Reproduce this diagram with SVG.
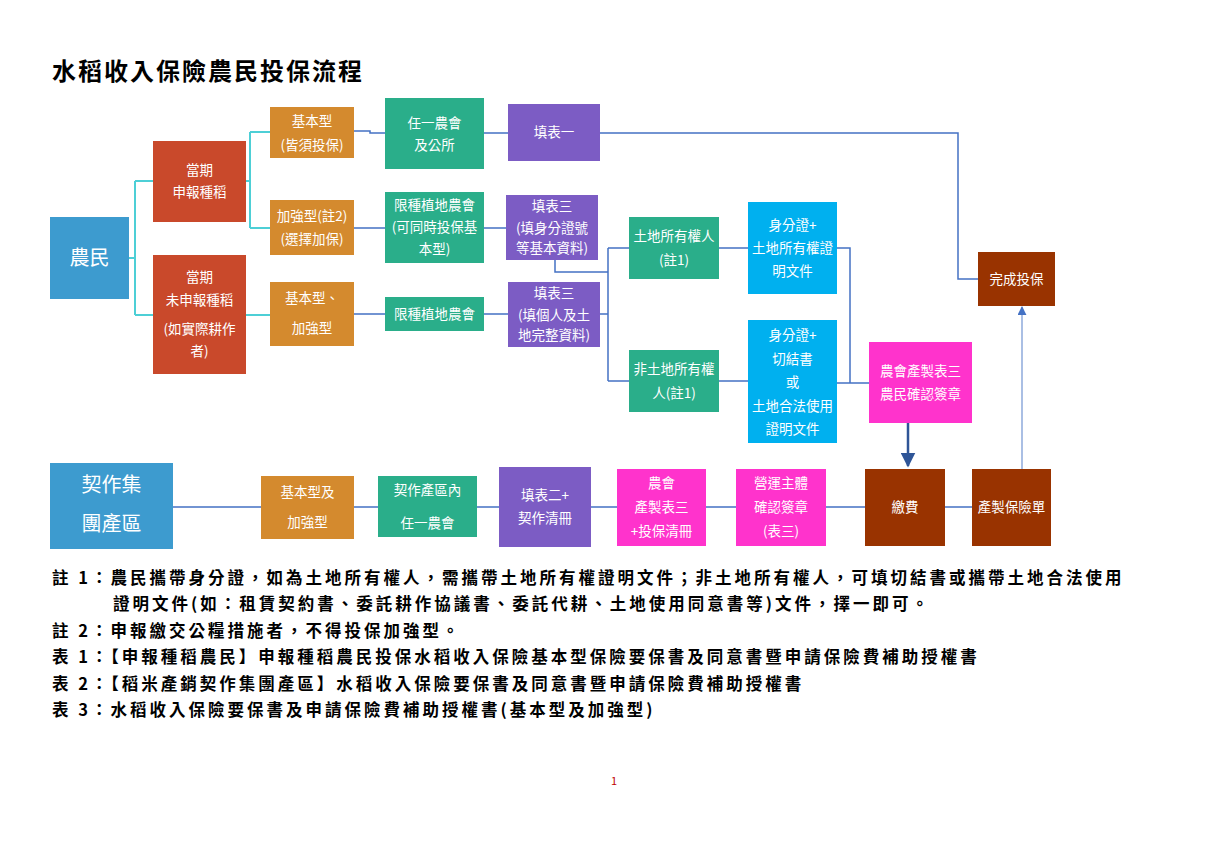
<svg xmlns="http://www.w3.org/2000/svg" width="1228" height="850" viewBox="0 0 1228 850">
<style>
text{font-family:"Noto Sans CJK TC","Noto Sans CJK SC",sans-serif;}
.n{fill:#fff;font-size:13.5px;text-anchor:middle;}
.b{fill:#fff;font-size:20px;text-anchor:middle;}
.note{font-size:16.5px;font-weight:bold;fill:#000;letter-spacing:3px;}
.c{fill:none;stroke:#4472c4;stroke-width:1.5;}
.cy{fill:none;stroke:#4dcfd6;stroke-width:2;}
</style>
<defs>
<marker id="ad" viewBox="0 0 10 10" refX="9" refY="5" markerWidth="6" markerHeight="6" orient="auto"><path d="M0,0L10,5L0,10z" fill="#2f5597"/></marker>
<marker id="al" viewBox="0 0 10 10" refX="9" refY="5" markerWidth="6" markerHeight="6" orient="auto"><path d="M0,0L10,5L0,10z" fill="#4472c4"/></marker>
</defs>
<rect width="1228" height="850" fill="#fff"/>
<text x="52" y="80" font-size="24" font-weight="bold" letter-spacing="2">水稻收入保險農民投保流程</text>
<g id="connectors">
<path class="cy" d="M129,258H135M135,181V315M135,181H153M135,315H153M246,181H250M250,132V228M250,132H270M250,228H270M246,315H270"/>
<path class="c" d="M354,131H370V133H385M484,133H508M600,133H958V279H978"/>
<path class="c" d="M354,228H385M484,228H506M354,314H385M484,314H508"/>
<path class="c" d="M555,260V272H608M600,314H608M608,248V381M608,248H629M608,381H629M719,248H748M719,381H748M837,248H850V383M837,383H869"/>
<path d="M908,423V466" stroke="#2f5597" stroke-width="2.5" fill="none" marker-end="url(#ad)"/>
<path d="M1022,469V307" stroke="#8eaadb" stroke-width="1.5" fill="none" marker-end="url(#al)"/>
<path class="c" d="M173,507H261M354,507H378M477,507H499M591,507H617M706,507H736M826,507H865M945,507H972" stroke="#5b9bd5"/>
</g>
<g id="n1"><rect x="50" y="217" width="79" height="82" fill="#3d9bcf"/><text class="b" x="89.5" y="265">農民</text></g>
<g id="n2"><rect x="153" y="141" width="93" height="81" fill="#c9492b"/><text class="n" x="199.5" y="175">當期</text><text class="n" x="199.5" y="197">申報種稻</text></g>
<g id="n3"><rect x="153" y="255" width="93" height="119" fill="#c9492b"/><text class="n" x="199.5" y="282">當期</text><text class="n" x="199.5" y="305">未申報種稻</text><text class="n" x="199.5" y="334">(如實際耕作</text><text class="n" x="199.5" y="356">者)</text></g>
<g id="n4"><rect x="270" y="107" width="84" height="51" fill="#d48a2e"/><text class="n" x="312" y="126">基本型</text><text class="n" x="312" y="150">(皆須投保)</text></g>
<g id="n5"><rect x="270" y="200" width="84" height="55" fill="#d48a2e"/><text class="n" x="312" y="221">加強型(註2)</text><text class="n" x="312" y="244">(選擇加保)</text></g>
<g id="n6"><rect x="270" y="282" width="84" height="64" fill="#d48a2e"/><text class="n" x="312" y="303">基本型、</text><text class="n" x="312" y="333">加強型</text></g>
<g id="n7"><rect x="385" y="98" width="99" height="71" fill="#2aae8a"/><text class="n" x="434.5" y="128">任一農會</text><text class="n" x="434.5" y="150">及公所</text></g>
<g id="n8"><rect x="385" y="192" width="99" height="71" fill="#2aae8a"/><text class="n" x="434.5" y="210">限種植地農會</text><text class="n" x="434.5" y="232">(可同時投保基</text><text class="n" x="434.5" y="254">本型)</text></g>
<g id="n9"><rect x="385" y="297" width="99" height="34" fill="#2aae8a"/><text class="n" x="434.5" y="319">限種植地農會</text></g>
<g id="n10"><rect x="508" y="104" width="92" height="57" fill="#7c5cc4"/><text class="n" x="554" y="137">填表一</text></g>
<g id="n11"><rect x="506" y="195" width="92" height="65" fill="#7c5cc4"/><text class="n" x="552" y="211">填表三</text><text class="n" x="552" y="233">(填身分證號</text><text class="n" x="552" y="253">等基本資料)</text></g>
<g id="n12"><rect x="508" y="282" width="92" height="65" fill="#7c5cc4"/><text class="n" x="554" y="298">填表三</text><text class="n" x="554" y="320">(填個人及土</text><text class="n" x="554" y="340">地完整資料)</text></g>
<g id="n13"><rect x="629" y="217" width="90" height="62" fill="#2aae8a"/><text class="n" x="674" y="241">土地所有權人</text><text class="n" x="674" y="265">(註1)</text></g>
<g id="n14"><rect x="629" y="350" width="90" height="62" fill="#2aae8a"/><text class="n" x="674" y="374">非土地所有權</text><text class="n" x="674" y="398">人(註1)</text></g>
<g id="n15"><rect x="748" y="202" width="89" height="92" fill="#00b0ef"/><text class="n" x="792.5" y="230">身分證+</text><text class="n" x="792.5" y="253">土地所有權證</text><text class="n" x="792.5" y="276">明文件</text></g>
<g id="n16"><rect x="748" y="320" width="89" height="123" fill="#00b0ef"/><text class="n" x="792.5" y="340">身分證+</text><text class="n" x="792.5" y="364">切結書</text><text class="n" x="792.5" y="387">或</text><text class="n" x="792.5" y="411">土地合法使用</text><text class="n" x="792.5" y="434">證明文件</text></g>
<g id="n17"><rect x="869" y="342" width="103" height="81" fill="#ff33cc"/><text class="n" x="920.5" y="376">農會產製表三</text><text class="n" x="920.5" y="399">農民確認簽章</text></g>
<g id="n18"><rect x="978" y="252" width="77" height="54" fill="#993300"/><text class="n" x="1016.5" y="284">完成投保</text></g>
<g id="n19"><rect x="50" y="463" width="123" height="86" fill="#3d9bcf"/><text class="b" x="111.5" y="492">契作集</text><text class="b" x="111.5" y="531">團產區</text></g>
<g id="n20"><rect x="261" y="476" width="93" height="63" fill="#d48a2e"/><text class="n" x="307.5" y="497">基本型及</text><text class="n" x="307.5" y="527">加強型</text></g>
<g id="n21"><rect x="378" y="476" width="99" height="61" fill="#2aae8a"/><text class="n" x="427.5" y="495">契作產區內</text><text class="n" x="427.5" y="528">任一農會</text></g>
<g id="n22"><rect x="499" y="467" width="92" height="80" fill="#7c5cc4"/><text class="n" x="545" y="500">填表二+</text><text class="n" x="545" y="523">契作清冊</text></g>
<g id="n23"><rect x="617" y="469" width="89" height="77" fill="#ff33cc"/><text class="n" x="661.5" y="488">農會</text><text class="n" x="661.5" y="512">產製表三</text><text class="n" x="661.5" y="536">+投保清冊</text></g>
<g id="n24"><rect x="736" y="469" width="90" height="77" fill="#ff33cc"/><text class="n" x="781" y="488">營運主體</text><text class="n" x="781" y="512">確認簽章</text><text class="n" x="781" y="536">(表三)</text></g>
<g id="n25"><rect x="865" y="469" width="80" height="77" fill="#993300"/><text class="n" x="905" y="512">繳費</text></g>
<g id="n26"><rect x="972" y="469" width="79" height="77" fill="#993300"/><text class="n" x="1011.5" y="512">產製保險單</text></g>
<text class="note" x="52" y="584">註 1：農民攜帶身分證，如為土地所有權人，需攜帶土地所有權證明文件；非土地所有權人，可填切結書或攜帶土地合法使用</text>
<text class="note" x="113" y="610">證明文件(如：租賃契約書、委託耕作協議書、委託代耕、土地使用同意書等)文件，擇一即可。</text>
<text class="note" x="52" y="637">註 2：申報繳交公糧措施者，不得投保加強型。</text>
<text class="note" x="52" y="663">表 1：【申報種稻農民】申報種稻農民投保水稻收入保險基本型保險要保書及同意書暨申請保險費補助授權書</text>
<text class="note" x="52" y="690">表 2：【稻米產銷契作集團產區】水稻收入保險要保書及同意書暨申請保險費補助授權書</text>
<text class="note" x="52" y="716">表 3：水稻收入保險要保書及申請保險費補助授權書(基本型及加強型)</text>
<text x="614" y="785" font-size="11" fill="#c00000" text-anchor="middle" font-family="Liberation Sans,sans-serif">1</text>
</svg>
